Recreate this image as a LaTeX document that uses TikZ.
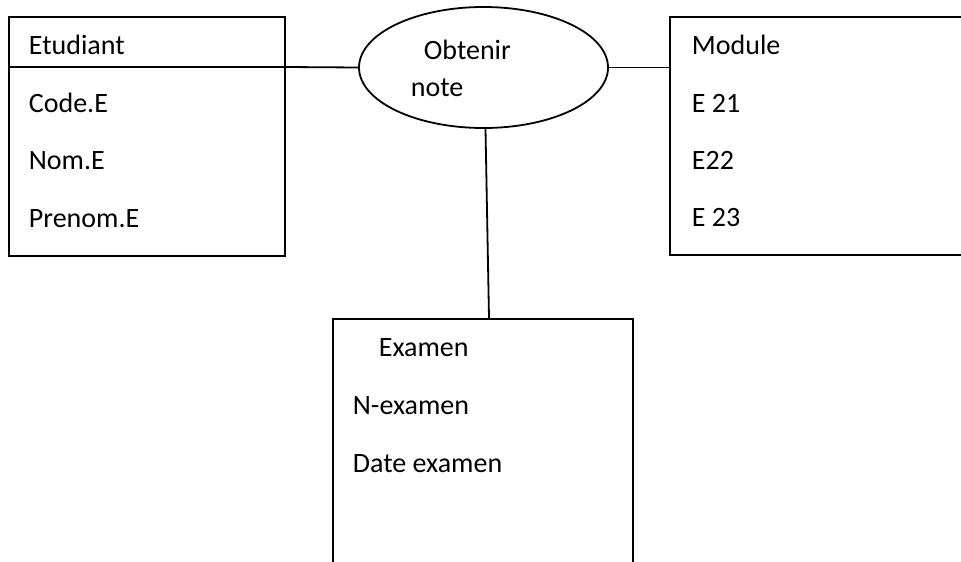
\documentclass[tikz,border=0pt]{standalone}
\usepackage{fontspec}
\setmainfont{Carlito}
\usetikzlibrary{shapes.geometric}
\begin{document}
\begin{tikzpicture}[x=1pt,y=-1pt,
  line width=1.8pt,
  entity/.style={draw, rectangle, inner sep=0pt, anchor=north west},
  assoc/.style={draw, ellipse, inner sep=0pt, minimum width=249pt, minimum height=121pt},
  label/.style={anchor=base west, inner sep=0pt, font=\fontsize{28}{32}\selectfont}]
\useasboundingbox (0,0) rectangle (961,562);
\clip (0,0) rectangle (961,562);

% entities
\node[entity, minimum width=276pt, minimum height=239pt] (etud) at (8,16) {};
\node[entity, minimum width=320pt, minimum height=238pt] (mod) at (669,16) {};
\node[entity, minimum width=300pt, minimum height=270pt] (exam) at (332,318) {};
\draw (etud.north west) ++(0,51) coordinate (sepL) -- (sepL -| etud.east) coordinate (sepR);

% association
\node[assoc] (obt) at (483.5,67.5) {};

% connectors
\draw (sepR) -- (obt.west);
\draw (obt.east) -- (obt.east -| mod.west);
\coordinate (examtop) at (489,318);
\draw (obt.south) ++(2,0) coordinate (obtfoot) -- (examtop);

% labels
\node[label] (t1) at (28,54) {Etudiant};
\node[label] (t2) at (28,112) {Code.E};
\node[label] (t3) at (28,169) {Nom.E};
\node[label] (t4) at (28,227) {Prenom.E};

\node[label] (m1) at (691,54) {Module};
\node[label] (m2) at (691,112) {E 21};
\node[label] (m3) at (691,169) {E22};
\node[label] (m4) at (691,226) {E 23};

\node[label] (o1) at (423,59) {Obtenir};
\node[label] (o2) at (410,96) {note};

\node[label] (x1) at (378,356) {Examen};
\node[label] (x2) at (352,414) {N-examen};
\node[label] (x3) at (352,472) {Date examen};
\end{tikzpicture}
\end{document}
